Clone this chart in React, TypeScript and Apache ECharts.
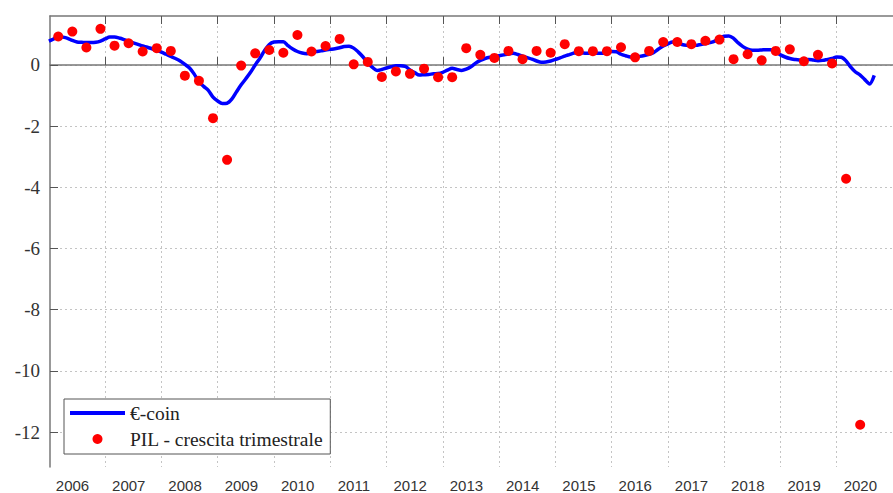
import React, { useEffect, useRef } from "react";
import * as echarts from "echarts";

const START_YEAR = 2006;
const yearLabels = [2006, 2007, 2008, 2009, 2010, 2011, 2012, 2013, 2014, 2015, 2016, 2017, 2018, 2019, 2020];
const yearBoundaries = [2007, 2008, 2009, 2010, 2011, 2012, 2013, 2014, 2015, 2016, 2017, 2018, 2019, 2020];
const yTicks = [-12, -10, -8, -6, -4, -2, 0];

// €-coin, monthly values from Jan 2006
const ecoinMonthly = [
  // 2006
  0.78, 0.85, 0.93, 0.91, 0.87, 0.80, 0.75, 0.74, 0.73, 0.73, 0.74, 0.78,
  // 2007
  0.85, 0.91, 0.91, 0.88, 0.83, 0.77, 0.72, 0.67, 0.62, 0.58, 0.53, 0.48,
  // 2008
  0.42, 0.35, 0.28, 0.21, 0.13, 0.02, -0.10, -0.30, -0.55, -0.70, -0.83, -1.05,
  // 2009
  -1.18, -1.26, -1.25, -1.12, -0.88, -0.65, -0.45, -0.24, 0.0, 0.22, 0.47, 0.67,
  // 2010
  0.75, 0.76, 0.76, 0.63, 0.52, 0.44, 0.39, 0.37, 0.40, 0.44, 0.46, 0.49,
  // 2011
  0.51, 0.53, 0.56, 0.60, 0.61, 0.55, 0.42, 0.26, 0.06, -0.08, -0.18, -0.15,
  // 2012
  -0.10, -0.06, -0.03, -0.03, -0.05, -0.16, -0.25, -0.33, -0.32, -0.31, -0.29, -0.28,
  // 2013
  -0.24, -0.17, -0.11, -0.15, -0.18, -0.14, -0.06, 0.06, 0.15, 0.21, 0.25, 0.27,
  // 2014
  0.30, 0.33, 0.36, 0.38, 0.34, 0.29, 0.24, 0.19, 0.13, 0.09, 0.10, 0.13,
  // 2015
  0.18, 0.23, 0.29, 0.34, 0.39, 0.40, 0.39, 0.38, 0.38, 0.38, 0.38, 0.41,
  // 2016
  0.44, 0.43, 0.35, 0.30, 0.26, 0.26, 0.28, 0.31, 0.35, 0.41, 0.52, 0.62,
  // 2017
  0.69, 0.75, 0.73, 0.67, 0.64, 0.63, 0.64, 0.67, 0.70, 0.73, 0.78, 0.88,
  // 2018
  0.94, 0.95, 0.87, 0.72, 0.60, 0.52, 0.48, 0.48, 0.49, 0.50, 0.50, 0.42,
  // 2019
  0.33, 0.26, 0.21, 0.18, 0.16, 0.17, 0.18, 0.16, 0.14, 0.15, 0.18, 0.21,
  // 2020
  0.26, 0.25, 0.13, -0.07, -0.23, -0.33, -0.48, -0.62, -0.34,
];

// PIL - quarterly growth, from 2006 Q1
const gdpQuarterly = [
  0.93, 1.09, 0.57, 1.18,
  0.63, 0.71, 0.44, 0.55,
  0.46, -0.35, -0.52, -1.74,
  -3.10, -0.02, 0.38, 0.49,
  0.40, 0.98, 0.44, 0.62,
  0.85, 0.02, 0.10, -0.39,
  -0.21, -0.29, -0.12, -0.40,
  -0.40, 0.55, 0.33, 0.23,
  0.46, 0.19, 0.46, 0.40,
  0.68, 0.45, 0.45, 0.45,
  0.58, 0.25, 0.46, 0.75,
  0.75, 0.68, 0.79, 0.83,
  0.19, 0.35, 0.15, 0.46,
  0.51, 0.12, 0.33, 0.05,
  -3.72, -11.76,
];

const SERIES_LINE = "€-coin";
const SERIES_DOTS = "PIL - crescita trimestrale";

const SERIF = "'Liberation Serif', 'Times New Roman', Times, serif";
const SANS = "'Liberation Sans', Arial, Helvetica, sans-serif";

export default function App() {
  const ref = useRef<HTMLDivElement>(null);

  useEffect(() => {
    if (!ref.current) return;
    const chart = echarts.init(ref.current, null, { renderer: "svg" });

    const lineData = ecoinMonthly.map((v, i) => [START_YEAR + i / 12, v]);
    const dotData = gdpQuarterly.map((v, i) => [START_YEAR + i / 4 + 1 / 6, v]);

    const xMin = 2006.02;
    const xMax = 2021;
    const axisColor = "#777";
    const gridColor = "#c4c4c4";

    chart.setOption({
      animation: false,
      backgroundColor: "#fff",
      grid: { left: 50, top: 16, width: 844.6, height: 451, containLabel: false },
      legend: {
        orient: "vertical",
        left: 64,
        top: 399,
        data: [
          { name: SERIES_LINE, icon: "path://M0,0 L55,0 L55,4 L0,4 Z", itemStyle: { color: "#0000ff" } },
          { name: SERIES_DOTS, icon: "circle" },
        ],
        backgroundColor: "#fff",
        borderColor: "#555",
        borderWidth: 1,
        borderRadius: 0,
        padding: [4, 7, 5, 6],
        itemWidth: 55,
        itemHeight: 10,
        itemGap: 6,
        textStyle: { fontFamily: SERIF, fontSize: 19.5, color: "#222" },
      },
      xAxis: [
        {
          type: "value",
          min: xMin,
          max: xMax,
          position: "bottom",
          axisLine: { show: true, lineStyle: { color: axisColor, width: 1.5 } },
          axisTick: {
            show: true,
            inside: true,
            length: 8,
            customValues: yearBoundaries,
            lineStyle: { color: "#555", width: 1 },
          },
          axisLabel: {
            customValues: yearLabels.map((y) => y + 0.42),
            formatter: (v: number) => String(Math.floor(v + 1e-6)),
            margin: 11,
            fontFamily: SANS,
            fontSize: 15,
            color: "#333",
          },
          splitLine: { show: true, lineStyle: { color: gridColor, type: [2, 3], width: 1 } },
        },
        {
          type: "value",
          min: xMin,
          max: xMax,
          position: "top",
          axisLine: { show: true, lineStyle: { color: axisColor, width: 1.5 } },
          axisTick: {
            show: true,
            inside: true,
            length: 8,
            customValues: yearBoundaries,
            lineStyle: { color: "#555", width: 1 },
          },
          axisLabel: { show: false },
          splitLine: { show: false },
        },
      ],
      yAxis: {
        type: "value",
        min: -13.14,
        max: 1.6,
        axisLine: { show: true, lineStyle: { color: axisColor, width: 1.5 } },
        axisTick: {
          show: true,
          inside: true,
          length: 8,
          customValues: yTicks,
          lineStyle: { color: "#555", width: 1 },
        },
        axisLabel: {
          customValues: yTicks,
          margin: 10,
          fontFamily: SERIF,
          fontSize: 19,
          color: "#333",
        },
        splitLine: { show: true, lineStyle: { color: gridColor, type: [2, 3], width: 1 } },
      },
      series: [
        {
          name: SERIES_LINE,
          type: "line",
          data: lineData,
          symbol: "none",
          showSymbol: false,
          smooth: 0.3,
          lineStyle: { color: "#0000ff", width: 3.5 },
          itemStyle: { color: "#0000ff" },
          z: 2,
        },
        {
          name: SERIES_DOTS,
          type: "scatter",
          data: dotData,
          symbol: "circle",
          symbolSize: 10,
          itemStyle: { color: "#ff0000", opacity: 1 },
          z: 3,
        },
      ],
    });

    return () => chart.dispose();
  }, []);

  return (
    <div
      ref={ref}
      style={{ position: "fixed", left: 0, top: 0, width: 893, height: 493, background: "#fff" }}
    />
  );
}
